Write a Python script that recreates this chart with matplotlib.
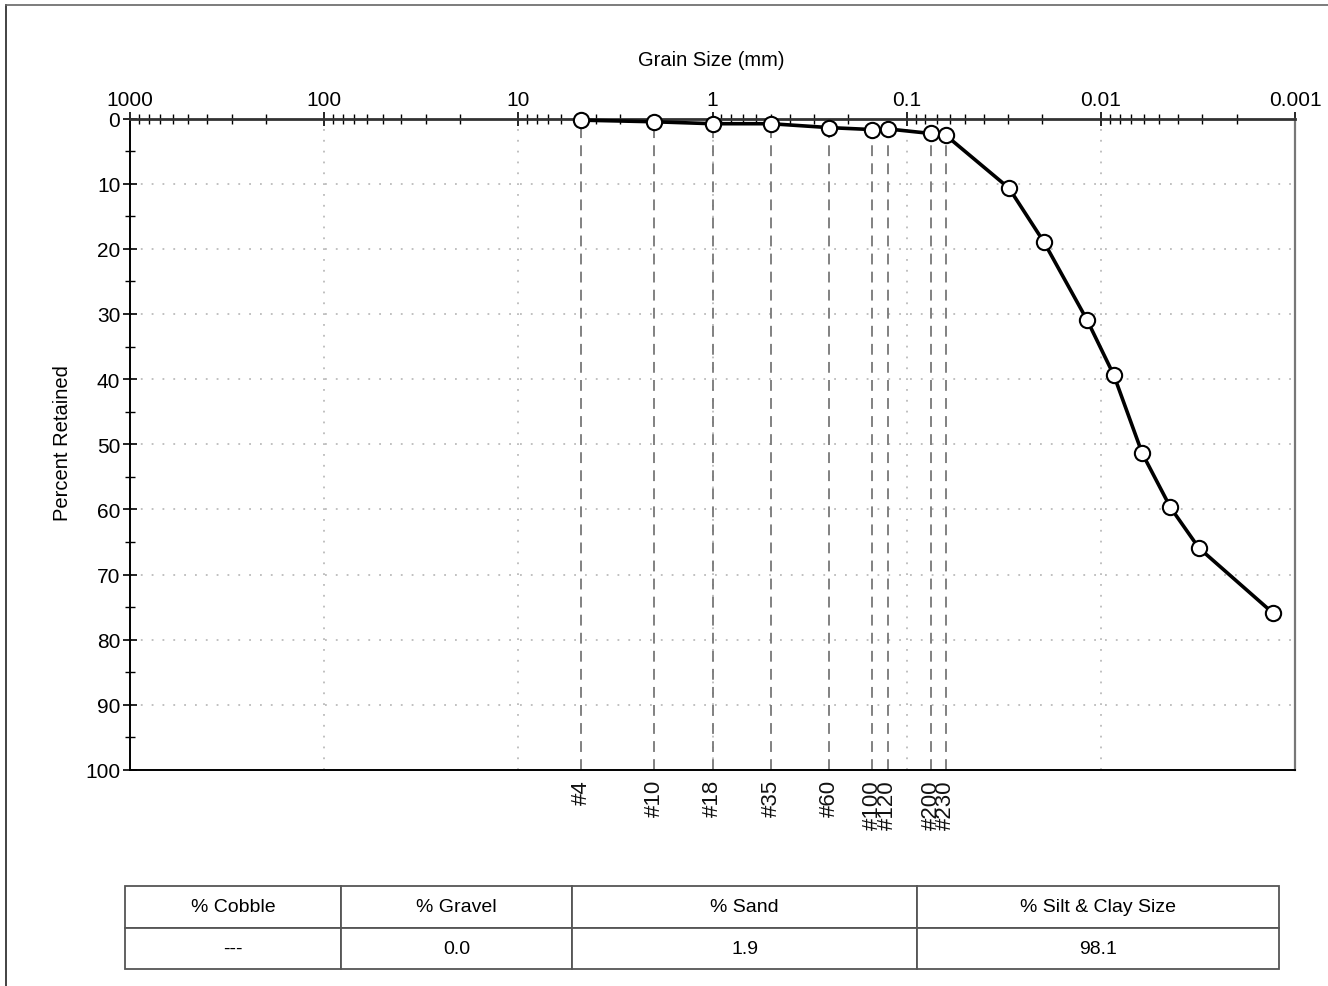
import matplotlib.pyplot as plt
import matplotlib.patches as patches
from matplotlib.ticker import LogLocator, NullFormatter, FixedLocator, MultipleLocator

plt.rcParams['font.family'] = ['Liberation Sans', 'DejaVu Sans']

# sieve data
sieve_names = ['#4', '#10', '#18', '#35', '#60', '#100', '#120', '#200', '#230']
sieve_mm = [4.75, 2.0, 1.0, 0.5, 0.25, 0.15, 0.125, 0.075, 0.063]
sieve_retained = [0.25, 0.5, 0.8, 0.8, 1.4, 1.7, 1.6, 2.3, 2.55]

# hydrometer data
hydro_mm = [0.0297, 0.0196, 0.01174, 0.00857, 0.00612, 0.00438, 0.00313, 0.0013]
hydro_retained = [10.7, 19.0, 31.0, 39.4, 51.4, 59.7, 65.9, 75.9]

# summary table
table_cols = ['% Cobble', '% Gravel', '% Sand', '% Silt & Clay Size']
table_vals = ['---', '0.0', '1.9', '98.1']

W, H = 1328, 987
fig = plt.figure(figsize=(W / 100, H / 100), dpi=100)

# outer frame
fig.add_artist(plt.Line2D([6 / W, 6 / W], [0, 1 - 6 / H], color='#222222', lw=1.2))
fig.add_artist(plt.Line2D([6 / W, 1], [1 - 6 / H, 1 - 6 / H], color='#666666', lw=1.2))

ax = fig.add_axes([130 / W, 1 - 771 / H, (1295 - 130) / W, (771 - 119.5) / H])
ax.set_xscale('log')
ax.set_xlim(1000, 0.001)
ax.set_ylim(100, 0)

# grid
for v in [100, 10, 1, 0.1, 0.01]:
    ax.axvline(v, color='#bbbbbb', lw=1.3, ls=(0, (1, 5)), zorder=1)
for v in range(10, 100, 10):
    ax.axhline(v, color='#bbbbbb', lw=1.3, ls=(0, (1, 5)), zorder=1)

# sieve lines and labels
for name, d in zip(sieve_names, sieve_mm):
    ax.axvline(d, color='#777777', lw=1.3, ls=(0, (6, 4)), zorder=2)
    ax.text(d, -0.014, name, transform=ax.get_xaxis_transform(), rotation=90,
            ha='center', va='top', fontsize=16, color='#111111')

x_all = sieve_mm + hydro_mm
y_all = sieve_retained + hydro_retained
ax.plot(x_all, y_all, color='black', lw=2.6, marker='o', ms=11,
        mfc='white', mec='black', mew=1.5, zorder=5, clip_on=False)

# axes styling
ax.xaxis.tick_top()
ax.xaxis.set_major_locator(LogLocator(base=10, numticks=10))
ax.xaxis.set_minor_locator(LogLocator(base=10, subs=range(2, 10), numticks=20))
ax.xaxis.set_minor_formatter(NullFormatter())
ax.set_xticks([1000, 100, 10, 1, 0.1, 0.01, 0.001])
ax.set_xticklabels(['1000', '100', '10', '1', '0.1', '0.01', '0.001'])
ax.yaxis.set_major_locator(MultipleLocator(10))
ax.yaxis.set_minor_locator(MultipleLocator(5))
ax.tick_params(axis='both', which='major', direction='inout', length=10, width=1.2,
               labelsize=15, pad=2)
ax.tick_params(axis='both', which='minor', direction='inout', length=7, width=1.0)
ax.tick_params(axis='x', which='both', top=True, bottom=False)
ax.tick_params(axis='y', which='both', left=True, right=False)

ax.spines['top'].set_linewidth(2.0)
ax.spines['top'].set_color('#333333')
ax.spines['left'].set_linewidth(1.4)
ax.spines['bottom'].set_linewidth(1.4)
ax.spines['right'].set_color('#777777')
ax.spines['right'].set_linewidth(1.6)

fig.text(711 / W, 1 - 60 / H, 'Grain Size (mm)', ha='center', va='center', fontsize=14.5)
fig.text(62 / W, 1 - 443 / H, 'Percent Retained', ha='center', va='center',
         rotation=90, fontsize=14.5)

# summary table
tx = fig.add_axes([125 / W, 1 - 970 / H, (1279 - 125) / W, (970 - 887) / H])
tx.axis('off')
widths = [216, 231, 345, 362]
tot = sum(widths)
tbl = tx.table(cellText=[table_cols, table_vals], cellLoc='center',
               colWidths=[w / tot for w in widths], bbox=[0, 0, 1, 1])
for (r, c), cell in tbl.get_celld().items():
    cell.set_edgecolor('#555555')
    cell.set_linewidth(1.3)
    cell.get_text().set_fontsize(14)
    cell.get_text().set_fontfamily(['Liberation Sans Narrow', 'Liberation Sans'])
tbl.auto_set_font_size(False)

fig.savefig('out.png', dpi=100)
